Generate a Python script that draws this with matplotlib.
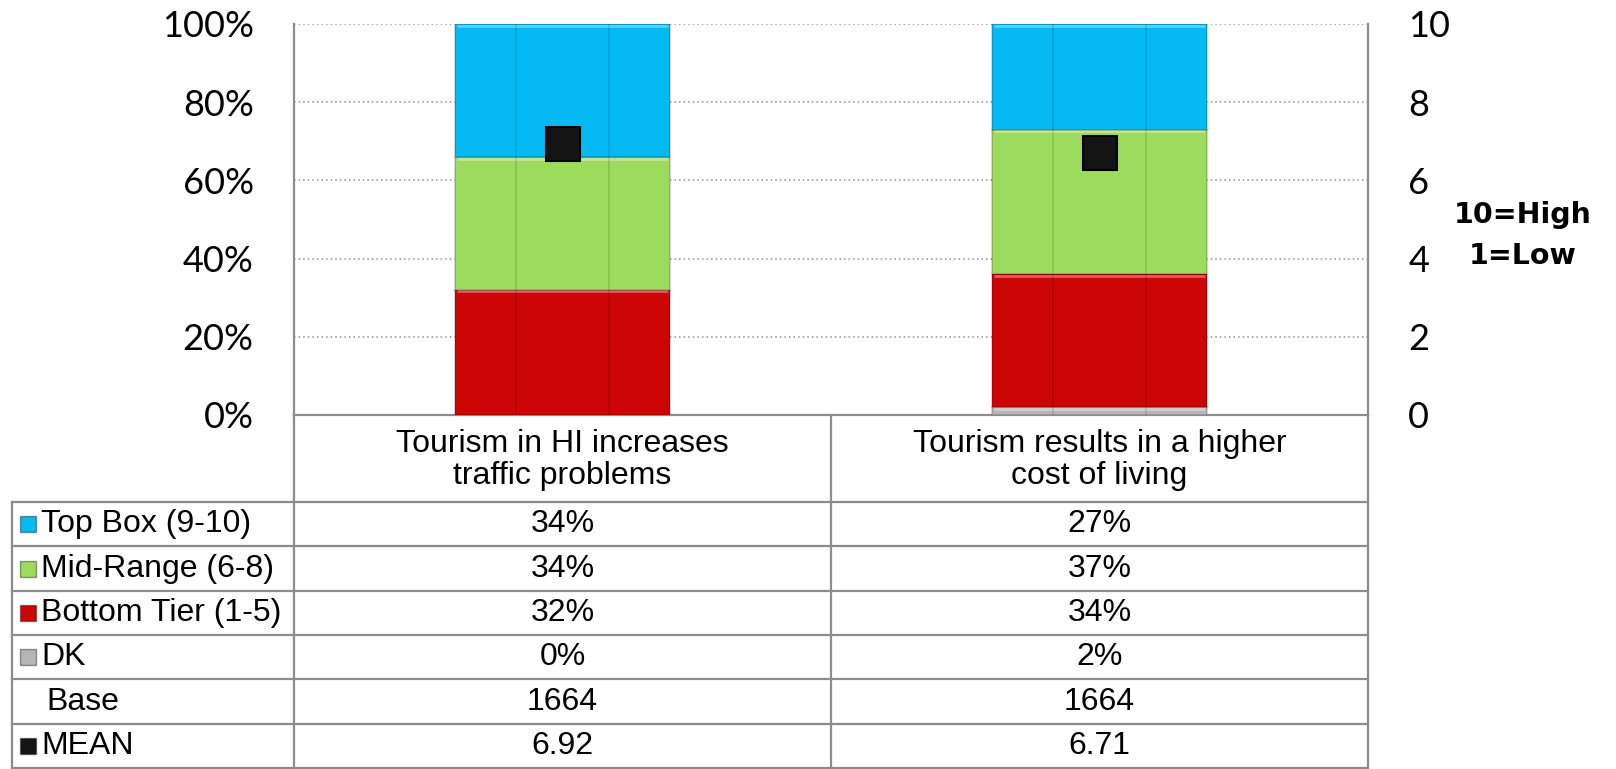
import matplotlib.pyplot as plt
import numpy as np

# data
categories = ["Tourism in HI increases\ntraffic problems",
              "Tourism results in a higher\ncost of living"]
series_names = ["Top Box (9-10)", "Mid-Range (6-8)", "Bottom Tier (1-5)", "DK"]
top_box = [34, 27]
mid_range = [34, 37]
bottom_tier = [32, 34]
dk = [0, 2]
base = [1664, 1664]
mean = [6.92, 6.71]

pct_ticks = [0, 20, 40, 60, 80, 100]
pct_labels = ["0%", "20%", "40%", "60%", "80%", "100%"]
mean_ticks = [0, 2, 4, 6, 8, 10]

BLUE = "#05B9F3"
GREEN = "#9CDB5B"
RED = "#CC0505"
GRAY = "#B5B5B5"
BLACK = "#141414"
LINE = "#8C8C8C"

W, H = 1616, 769
fig = plt.figure(figsize=(W / 100, H / 100), dpi=100)

# main chart area (pixel positions of the reference)
ax_l, ax_r, ax_t, ax_b = 294, 1368, 24, 415
ax = fig.add_axes([ax_l / W, (H - ax_b) / H, (ax_r - ax_l) / W, (ax_b - ax_t) / H])
x = np.arange(len(categories))
bw = 0.4

# stacked from the bottom: DK, bottom, mid, top
stack = [(dk, GRAY), (bottom_tier, RED), (mid_range, GREEN), (top_box, BLUE)]
bottom = np.zeros(len(categories))
for vals, col in stack:
    vals = np.array(vals, dtype=float)
    ax.bar(x, vals, bw, bottom=bottom, color=col, edgecolor="#00000030",
           linewidth=1.2, zorder=3)
    # light bevel line on top of each segment
    for xi, b, v in zip(x, bottom, vals):
        if v > 0:
            ax.hlines(b + v - 0.4, xi - bw / 2 + 0.004, xi + bw / 2 - 0.004,
                      color="white", alpha=0.35, lw=2, zorder=4)
    bottom += vals

# faint inner vertical lines seen on the bars
for xi in x:
    for f in (0.285, 0.715):
        ax.vlines(xi - bw / 2 + f * bw, 0, 100, color="black", alpha=0.12,
                  lw=1.2, zorder=4)

ax.set_xlim(-0.5, len(categories) - 0.5)
ax.set_ylim(0, 100)
ax.set_yticks(pct_ticks)
ax.set_yticklabels(pct_labels, family="Lato", fontsize=26)
ax.tick_params(axis="y", length=0, pad=29)
ax.set_xticks([])
for yv in pct_ticks[1:]:
    ax.axhline(yv, color="#909090", ls=(0, (1, 2)), lw=1.1, zorder=1)
ax.spines["top"].set_visible(False)
for s in ("left", "right", "bottom"):
    ax.spines[s].set_color(LINE)
    ax.spines[s].set_linewidth(1.6)

ax2 = ax.twinx()
ax2.set_ylim(0, 10)
ax2.set_yticks(mean_ticks)
ax2.set_yticklabels([str(t) for t in mean_ticks], family="Lato", fontsize=26)
ax2.tick_params(axis="y", length=0, pad=29)
for s in ax2.spines.values():
    s.set_visible(False)
ax2.plot(x, mean, ls="none", marker="s", markersize=25, color=BLACK,
         markeredgecolor="#000000", markeredgewidth=1.5, zorder=6)

fig.text(1523 / W, 1 - 215 / H, "10=High", ha="center", va="center",
         family="DejaVu Sans", weight="bold", fontsize=20.5)
fig.text(1523 / W, 1 - 256 / H, "1=Low", ha="center", va="center",
         family="DejaVu Sans", weight="bold", fontsize=20.5)

# data table under the chart
tb_l, tb_b = 12, 768
tax = fig.add_axes([tb_l / W, (H - tb_b) / H, (ax_r - tb_l) / W, (tb_b - ax_b) / H])
unit = (ax_r - ax_l) / len(categories)
left_w = (ax_l - tb_l) / unit
tax.set_xlim(-0.5 - left_w, len(categories) - 0.5)
head_h = 87 / 44.33
rows = [[f"{v}%" for v in top_box],
        [f"{v}%" for v in mid_range],
        [f"{v}%" for v in bottom_tier],
        [f"{v}%" for v in dk],
        [str(v) for v in base],
        [f"{v:.2f}" for v in mean]]
row_labels = series_names + ["Base", "MEAN"]
row_marks = [BLUE, GREEN, RED, GRAY, None, BLACK]
n = len(rows)
tax.set_ylim(0, n + head_h)
tax.axis("off")

x0 = -0.5 - left_w
x1 = len(categories) - 0.5
lk = dict(color=LINE, lw=1.6, clip_on=False)
for k in range(n + 1):
    tax.plot([x0, x1], [k, k], **lk)
tax.plot([x0, x0], [0, n], **lk)
for xb in np.arange(-0.5, len(categories)):
    tax.plot([xb, xb], [0, n + head_h], **lk)

fs = 23
for i, cat in enumerate(categories):
    tax.text(i, n + head_h / 2 - 0.03, cat, ha="center", va="center",
             family="Liberation Sans", fontsize=fs, linespacing=1.08)
for r, (lab, vals, mc) in enumerate(zip(row_labels, rows, row_marks)):
    yc = n - r - 0.5
    if mc is not None:
        tax.plot(x0 + 16 / unit, yc, marker="s", markersize=12, color=mc,
                 markeredgecolor="#00000060", clip_on=False)
    tax.text(x0 + (29 if mc else 34) / unit, yc, lab, ha="left", va="center",
             family="Liberation Sans", fontsize=fs)
    for i, v in enumerate(vals):
        tax.text(i, yc, v, ha="center", va="center",
                 family="Liberation Sans", fontsize=fs)

fig.savefig("out.png", dpi=100)
